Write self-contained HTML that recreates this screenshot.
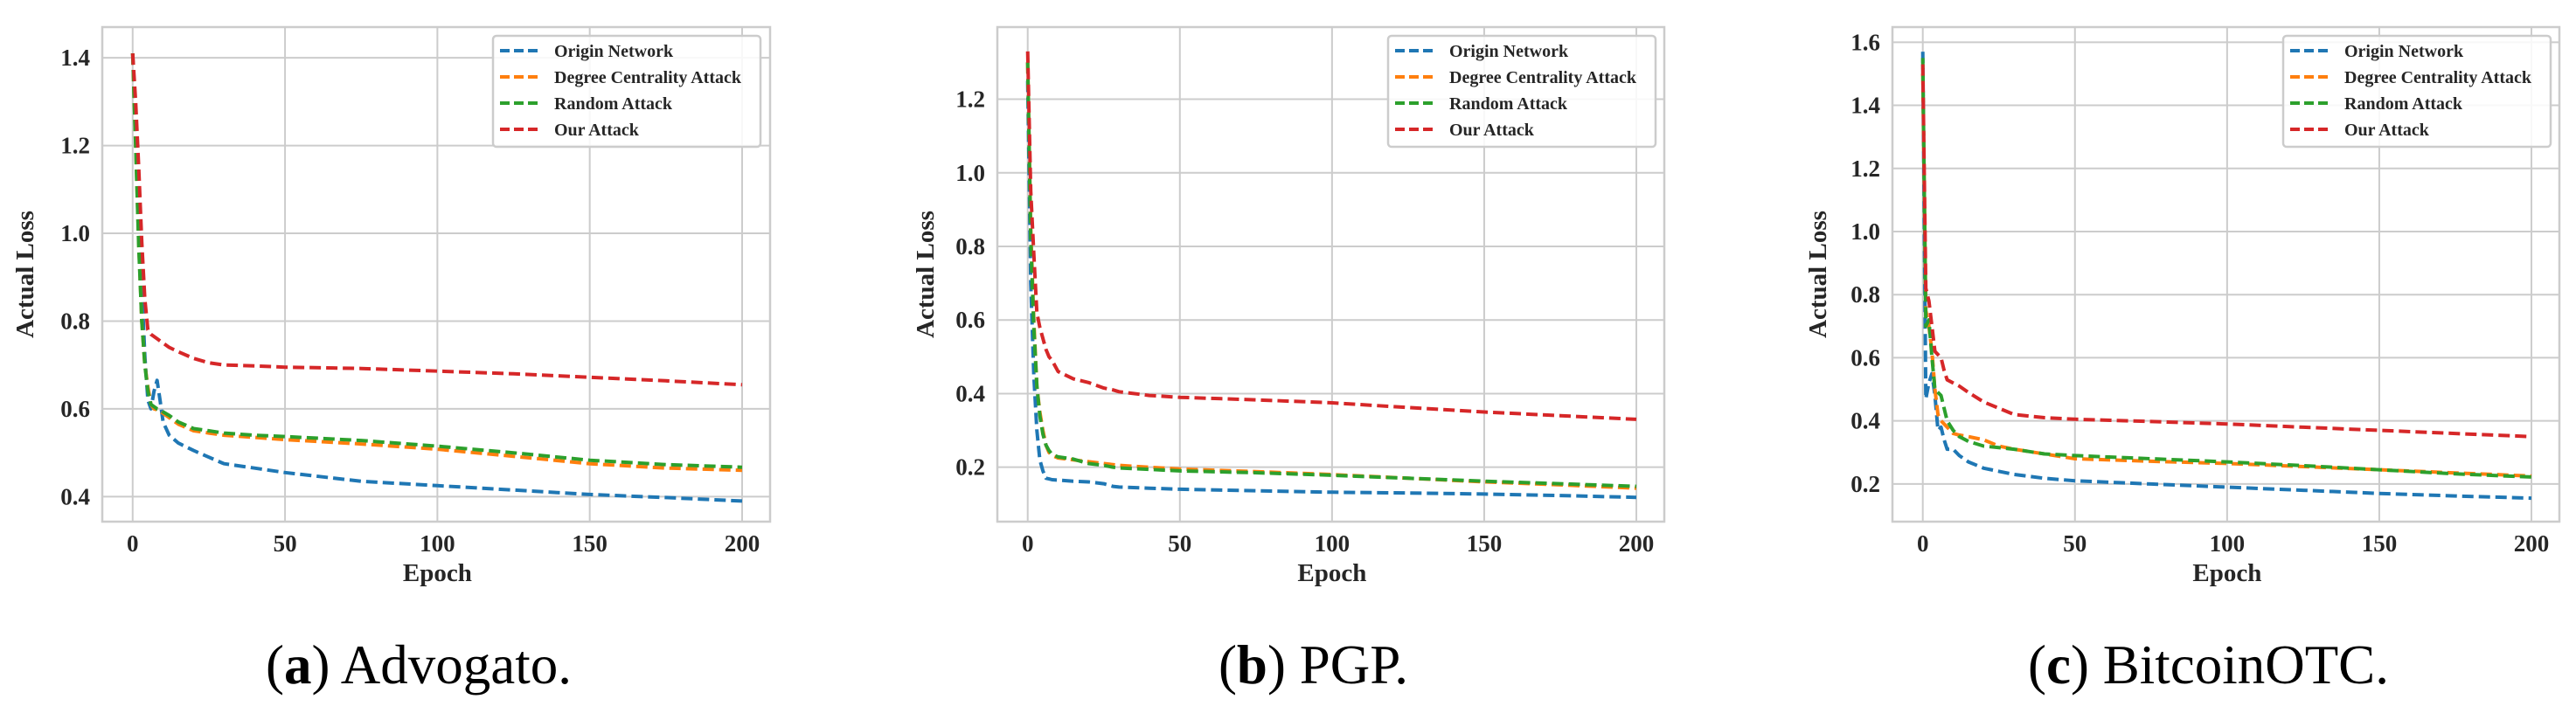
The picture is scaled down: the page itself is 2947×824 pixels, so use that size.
<!DOCTYPE html>
<html><head><meta charset="utf-8"><style>
html,body{margin:0;padding:0;background:#fff;}
svg{display:block;}
text{font-family:"Liberation Serif",serif;}
</style></head><body>
<svg id="fig" width="2947" height="824" viewBox="0 0 2947 824" xmlns="http://www.w3.org/2000/svg"></svg>
<script>
// Panel (a) Advogato
const epochsA = [0,1,2,3,4,5,6,7,8,9,10,12,15,20,25,30,40,50,75,100,125,150,175,200];
const originA = [1.41,1.25,1.05,0.88,0.72,0.62,0.6,0.64,0.665,0.62,0.57,0.54,0.522,0.505,0.49,0.475,0.465,0.455,0.435,0.425,0.415,0.405,0.398,0.39];
const degreeA = [1.41,1.2,0.98,0.8,0.7,0.65,0.61,0.6,0.598,0.595,0.59,0.58,0.565,0.55,0.545,0.54,0.535,0.53,0.52,0.508,0.492,0.475,0.465,0.46];
const randomA = [1.41,1.2,0.97,0.8,0.7,0.64,0.61,0.605,0.6,0.598,0.593,0.585,0.57,0.555,0.55,0.545,0.54,0.537,0.528,0.515,0.5,0.483,0.473,0.467];
const oursA   = [1.41,1.3,1.15,0.98,0.85,0.78,0.77,0.765,0.76,0.755,0.75,0.74,0.73,0.715,0.705,0.70,0.698,0.695,0.692,0.686,0.68,0.672,0.664,0.655];
// Panel (b) PGP
const epochsB = [0,1,2,3,4,5,6,7,8,10,15,20,25,28,30,40,50,75,100,125,150,175,200];
const originB = [1.25,0.7,0.45,0.3,0.22,0.19,0.17,0.168,0.166,0.165,0.162,0.16,0.155,0.148,0.146,0.143,0.14,0.136,0.132,0.13,0.127,0.123,0.118];
const degreeB = [1.3,0.85,0.6,0.42,0.35,0.3,0.26,0.24,0.232,0.225,0.22,0.215,0.21,0.207,0.205,0.2,0.195,0.188,0.18,0.17,0.16,0.152,0.143];
const randomB = [1.3,0.82,0.58,0.42,0.34,0.29,0.26,0.245,0.235,0.228,0.222,0.21,0.205,0.2,0.198,0.194,0.19,0.185,0.178,0.17,0.162,0.155,0.148];
const oursB   = [1.33,0.95,0.78,0.62,0.58,0.55,0.52,0.5,0.49,0.46,0.44,0.43,0.415,0.41,0.405,0.395,0.39,0.383,0.375,0.362,0.35,0.34,0.33];
// Panel (c) BitcoinOTC
const epochsC = [0,1,2,3,4,5,6,7,8,10,12,15,20,25,30,40,50,75,100,125,150,175,200];
const originC = [1.57,0.47,0.52,0.55,0.48,0.37,0.38,0.34,0.31,0.31,0.29,0.27,0.25,0.24,0.23,0.218,0.21,0.2,0.19,0.18,0.17,0.162,0.155];
const degreeC = [1.5,0.75,0.7,0.62,0.5,0.42,0.4,0.39,0.38,0.36,0.355,0.35,0.34,0.32,0.31,0.295,0.28,0.272,0.265,0.255,0.245,0.235,0.225];
const randomC = [1.55,0.7,0.72,0.6,0.5,0.49,0.48,0.44,0.4,0.37,0.35,0.335,0.32,0.315,0.31,0.295,0.29,0.28,0.27,0.258,0.245,0.232,0.222];
const oursC   = [1.53,0.82,0.78,0.7,0.62,0.61,0.6,0.56,0.53,0.52,0.51,0.49,0.46,0.44,0.42,0.41,0.405,0.398,0.39,0.38,0.37,0.36,0.35];

const yTicksA = [0.4,0.6,0.8,1.0,1.2,1.4];
const yTicksB = [0.2,0.4,0.6,0.8,1.0,1.2];
const yTicksC = [0.2,0.4,0.6,0.8,1.0,1.2,1.4,1.6];
const xTicks = [0,50,100,150,200];
const seriesNames = ["Origin Network","Degree Centrality Attack","Random Attack","Our Attack"];
const colors = ["#1f77b4","#ff7f0e","#2ca02c","#d62728"];

const NS="http://www.w3.org/2000/svg";
const fig=document.getElementById('fig');
function mk(tag,attrs,parent){const e=document.createElementNS(NS,tag);for(const k in attrs)e.setAttribute(k,attrs[k]);parent.appendChild(e);return e;}

const panels=[
 {id:'a',left:117,right:881,top:31,bottom:597,ymin:0.343,ymax:1.47,yTicks:yTicksA,epochs:epochsA,series:[originA,degreeA,randomA,oursA],leg:[564,41],cap:['a','Advogato.'],ylabX:38},
 {id:'b',left:1141,right:1904,top:31,bottom:597,ymin:0.052,ymax:1.396,yTicks:yTicksB,epochs:epochsB,series:[originB,degreeB,randomB,oursB],leg:[1588,41],cap:['b','PGP.'],ylabX:1068},
 {id:'c',left:2165,right:2928,top:31,bottom:597,ymin:0.0805,ymax:1.648,yTicks:yTicksC,epochs:epochsC,series:[originC,degreeC,randomC,oursC],leg:[2612,41],cap:['c','BitcoinOTC.'],ylabX:2089}
];

panels.forEach(p=>{
  const g=mk('g',{},fig);
  
  
  const pw=p.right-p.left;
  const x0=p.left+pw*0.0455, x1=p.right-pw*0.0419;
  const xs=v=>x0+(v/200)*(x1-x0);
  const ys=v=>p.bottom-(v-p.ymin)/(p.ymax-p.ymin)*(p.bottom-p.top);
  p.yTicks.forEach(t=>{
    const l=mk('line',{x1:p.left,x2:p.right,y1:ys(t),y2:ys(t),stroke:'#cccccc','stroke-width':2},g);
    
    
    const tx=mk('text',{x:p.left-14,y:ys(t)+9,'text-anchor':'end','font-size':27,'font-weight':'bold',fill:'#262626'},g);
    tx.textContent=t.toFixed(1);
    
    
  });
  xTicks.forEach(t=>{
    const l=mk('line',{x1:xs(t),x2:xs(t),y1:p.top,y2:p.bottom,stroke:'#cccccc','stroke-width':2},g);
    
    
    const tx=mk('text',{x:xs(t),y:631,'text-anchor':'middle','font-size':27,'font-weight':'bold',fill:'#262626'},g);
    tx.textContent=t;
    
    
  });
  const fr=mk('rect',{x:p.left,y:p.top,width:pw,height:p.bottom-p.top,fill:'none',stroke:'#cccccc','stroke-width':2.5},g);
  
  
  p.series.forEach((s,i)=>{
    const d=s.map((v,k)=>(k?'L':'M')+xs(p.epochs[k]).toFixed(1)+','+ys(v).toFixed(1)).join(' ');
    const pa=mk('path',{d:d,fill:'none',stroke:colors[i],'stroke-width':4,'stroke-dasharray':'13 6','stroke-linejoin':'round'},g);
    
    
  });
  const xl=mk('text',{x:(xs(0)+xs(200))/2,y:665,'text-anchor':'middle','font-size':29,'font-weight':'bold',fill:'#262626'},g);
  xl.textContent='Epoch';
  
  
  const cy=(p.top+p.bottom)/2;
  const yl=mk('text',{x:p.ylabX,y:cy,'text-anchor':'middle','font-size':29,'font-weight':'bold',fill:'#262626',transform:'rotate(-90 '+p.ylabX+' '+cy+')'},g);
  yl.textContent='Actual Loss';
  
  
  const lg=mk('g',{},g);
  
  
  mk('rect',{x:p.leg[0],y:p.leg[1],width:306,height:127,rx:4,fill:'#ffffff','fill-opacity':0.85,stroke:'#cccccc','stroke-width':2.5},lg);
  seriesNames.forEach((n,i)=>{
    const yy=p.leg[1]+17+i*30;
    const ln=mk('line',{x1:p.leg[0]+8,x2:p.leg[0]+52,y1:yy,y2:yy,stroke:colors[i],'stroke-width':4,'stroke-dasharray':'11 5'},lg);
    
    
    const tx=mk('text',{x:p.leg[0]+70,y:yy+7,'font-size':20,'font-weight':'bold',fill:'#262626'},lg);
    tx.textContent=n;
    
    
  });
  const ct=mk('text',{x:(p.left+p.right)/2-20,y:782,'text-anchor':'middle','font-size':63,fill:'#000'},g);
  
  
  const t1=mk('tspan',{},ct);t1.textContent='(';
  const t2=mk('tspan',{'font-weight':'bold'},ct);t2.textContent=p.cap[0];
  const t3=mk('tspan',{},ct);t3.textContent=') '+p.cap[1];
});
</script>
</body></html>
